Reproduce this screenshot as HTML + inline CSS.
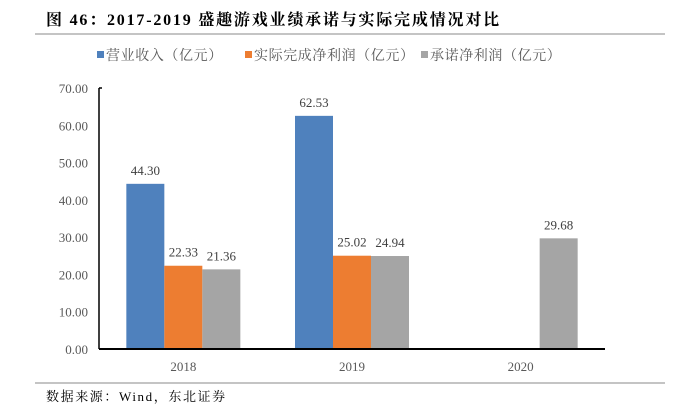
<!DOCTYPE html>
<html><head><meta charset="utf-8"><style>
body{margin:0;background:#fff;width:676px;height:411px;overflow:hidden;font-family:"Liberation Serif","Noto Serif CJK SC",serif;}
</style></head><body>
<svg width="676" height="411" xmlns="http://www.w3.org/2000/svg">
<text x="46" y="25" font-size="16" font-weight="bold" fill="#000" letter-spacing="1.8">图  46：2017-2019 盛趣游戏业绩承诺与实际完成情况对比</text>
<line x1="35" y1="34" x2="665" y2="34" stroke="#888" stroke-width="1"/>
<g font-size="14" fill="#595959" letter-spacing="0.6" font-family="Liberation Serif,Noto Serif CJK SC,serif">
<rect x="97" y="51" width="7" height="7" fill="#4F81BD"/>
<text x="106" y="60">营业收入（亿元）</text>
<rect x="245" y="51" width="7" height="7" fill="#ED7D31"/>
<text x="254" y="60">实际完成净利润（亿元）</text>
<rect x="421" y="51" width="7" height="7" fill="#A5A5A5"/>
<text x="430" y="60">承诺净利润（亿元）</text>
</g>
<g id="plot"></g>
<line x1="35" y1="383" x2="665" y2="383" stroke="#888" stroke-width="1"/>
<text x="46" y="401" font-size="13" fill="#000" letter-spacing="1.6">数据来源：Wind，东北证券</text>
</svg>
<script>
const categories=["2018","2019","2020"];
const revenue=[44.30,62.53,null];
const actualProfit=[22.33,25.02,null];
const promisedProfit=[21.36,24.94,29.68];
const yTicks=[0,10,20,30,40,50,60,70];
const seriesNames=["revenue","actual","promise"];
const colors=["#4F81BD","#ED7D31","#A5A5A5"];
const NS="http://www.w3.org/2000/svg";
const g=document.getElementById('plot');
const x0=99,x1=605,yBase=349,yTop=88,yMax=70;
const y=v=>yBase-(v/yMax)*(yBase-yTop);
const gw=(x1-x0)/categories.length,bw=38;
function mk(t,a){const e=document.createElementNS(NS,t);for(const k in a)e.setAttribute(k,a[k]);g.appendChild(e);return e;}
yTicks.forEach(v=>{const t=mk('text',{x:x0-11,y:y(v)+5,'text-anchor':'end','font-size':13,fill:'#595959'});t.textContent=v.toFixed(2);

});
const all=[revenue,actualProfit,promisedProfit];
categories.forEach((c,i)=>{const cx=x0+gw*(i+0.5);
all.forEach((s,j)=>{const v=s[i];if(v==null)return;const bx=cx-1.5*bw+j*bw;
const r=mk('rect',{x:bx,y:y(v),width:bw,height:yBase-y(v),fill:colors[j]});


const t=mk('text',{x:bx+bw/2,y:y(v)-9,'text-anchor':'middle','font-size':13,fill:'#404040'});t.textContent=v.toFixed(2);

});
const t=mk('text',{x:cx,y:yBase+22,'text-anchor':'middle','font-size':13,fill:'#595959'});t.textContent=c;

});
const ya=mk('line',{x1:x0,y1:yTop,x2:x0,y2:yBase,stroke:'#000','stroke-width':1.5});


const tk=mk('line',{x1:x0,y1:yTop,x2:x0+3,y2:yTop,stroke:'#000','stroke-width':1.5});


const xa=mk('line',{x1:x0,y1:yBase,x2:x1,y2:yBase,stroke:'#000','stroke-width':2});


</script>
</body></html>
